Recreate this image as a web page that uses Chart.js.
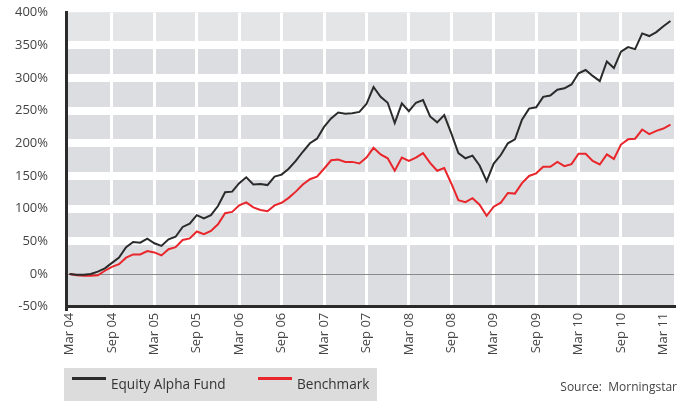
<!DOCTYPE html>
<html>
<head>
<meta charset="utf-8">
<script src="https://cdn.jsdelivr.net/npm/chart.js@4.4.1/dist/chart.umd.min.js"></script>
<style>
  body { margin: 0; background: #fff; }
  #wrap { position: relative; width: 685px; height: 401px; font-family: "Open Sans", sans-serif; }
  #legend { position: absolute; left: 64px; top: 368px; width: 313px; height: 33px; background: #dcdcdc; }
  .item { position: absolute; top: 7px; font-size: 13.6px; color: #333; line-height: 18px; }
  .swatch { position: absolute; top: 9px; width: 34px; height: 3px; }
  #source { position: absolute; right: 8px; top: 378px; font-size: 12px; color: #444; }
</style>
</head>
<body>
<div id="wrap">
  <canvas id="perf" width="685" height="401"></canvas>
  <div id="legend">
    <div class="swatch" style="left:8px;background:#2b2b2b"></div>
    <div class="item" style="left:47px">Equity Alpha Fund</div>
    <div class="swatch" style="left:194px;background:#e8262b"></div>
    <div class="item" style="left:233px">Benchmark</div>
  </div>
  <div id="source">Source:&nbsp; Morningstar</div>
</div>
<script>
// monthly, Mar 04 .. Apr 11
const monthNames = ['Jan','Feb','Mar','Apr','May','Jun','Jul','Aug','Sep','Oct','Nov','Dec'];
let months = [];
for (let i = 0; i < 86; i++) {
  let m = (2 + i) % 12;
  let y = 4 + Math.floor((2 + i) / 12);
  months.push(monthNames[m] + ' ' + String(y).padStart(2, '0'));
}

const fund = [0, -1, -1, 0, 3.6, 8.6, 17, 25, 41, 49, 48, 54, 47, 43, 53, 57, 72, 77, 90, 85,
  90, 104, 125, 126, 139, 148, 137, 137.5, 136, 149, 152, 161, 173, 187, 200, 207, 225, 238, 247, 245,
  246, 248, 260, 286, 271, 262, 231, 261, 249, 262, 266, 241, 232, 243, 215, 185, 177, 181, 166, 142,
  169, 182, 200, 206, 236, 253, 255, 271, 273, 282, 284, 290, 307, 312, 303, 295, 325, 315, 340, 347,
  344, 368, 364, 370, 379, 387];

const benchmark = [0, -2, -2.5, -2.5, -2, 5, 11, 15, 25, 30, 30, 35, 33, 28.5, 38, 41, 52, 54.5, 65, 61,
  66, 76, 93, 95, 105, 109.5, 102, 98, 96, 105, 109, 116.5, 126, 137, 145, 149, 161, 174, 175, 171.5,
  171.5, 169, 178, 193, 183, 177, 158, 178, 173, 178, 185, 170, 158, 162, 138.5, 113, 110, 116, 106, 89,
  103, 109, 124, 123, 139, 150, 154, 164, 164, 171.5, 165, 168, 184, 184, 173, 167.5, 183, 176, 198, 206,
  207, 221, 214, 219, 222.5, 228.5];

const yMin = -50, yMax = 400, yStep = 50;

const bandBackground = {
  id: 'bandBackground',
  beforeDraw(chart) {
    const { ctx, chartArea: a, scales } = chart;
    ctx.save();
    ctx.fillStyle = '#dcdde0';
    ctx.fillRect(a.left, a.top, a.right - a.left, a.bottom - a.top);
    // top band is a touch lighter
    let y350 = scales.y.getPixelForValue(350);
    ctx.fillStyle = '#e4e5e7';
    ctx.fillRect(a.left, a.top, a.right - a.left, y350 - a.top);
    ctx.restore();
  }
};

new Chart(document.getElementById('perf'), {
  type: 'line',
  data: {
    labels: months,
    datasets: [{
      label: 'Equity Alpha Fund',
      data: fund,
      borderColor: '#2b2b2b',
      borderWidth: 2,
      pointRadius: 0,
      tension: 0
    }, {
      label: 'Benchmark',
      data: benchmark,
      borderColor: '#e8262b',
      borderWidth: 2,
      pointRadius: 0,
      tension: 0
    }]
  },
  options: {
    responsive: false,
    animation: false,
    layout: { padding: { top: 12.5, right: 11, bottom: 44.3, left: 0 } },
    plugins: { legend: { display: false }, tooltip: { enabled: false } },
    scales: {
      x: {
        type: 'category',
        offset: true,
        grid: {
          offset: false,
          drawTicks: false,
          color: (c) => (c.index % 6 === 0 && c.index > 0 && c.index < 84) ? '#ffffff' : 'rgba(0,0,0,0)',
          lineWidth: 3
        },
        border: { color: '#2b2b2b', width: 3 },
        ticks: {
          autoSkip: false,
          minRotation: 90,
          maxRotation: 90,
          padding: 6,
          color: '#444',
          font: { family: 'Open Sans', size: 13 },
          callback: function (v, i) { return (i % 6 === 0 && i <= 84) ? months[i] : ''; }
        },
        afterFit: (s) => { s.height = 50; s.paddingLeft = 0; s.paddingRight = 0; }
      },
      y: {
        min: yMin,
        max: yMax,
        grid: {
          drawTicks: false,
          color: (c) => {
            let v = c.tick.value;
            if (v === 0) return '#8a8a8a';
            if (v === yMin || v === yMax) return 'rgba(0,0,0,0)';
            return '#ffffff';
          },
          lineWidth: (c) => c.tick.value === 0 ? 1 : 8
        },
        border: { color: '#2b2b2b', width: 3 },
        ticks: {
          stepSize: yStep,
          padding: 18,
          color: '#444',
          font: { family: 'Open Sans', size: 13 },
          callback: (v) => v + '%'
        },
        afterFit: (s) => { s.width = 66; s.paddingTop = 0; s.paddingBottom = 0; }
      }
    }
  },
  plugins: [bandBackground]
});
</script>
</body>
</html>
